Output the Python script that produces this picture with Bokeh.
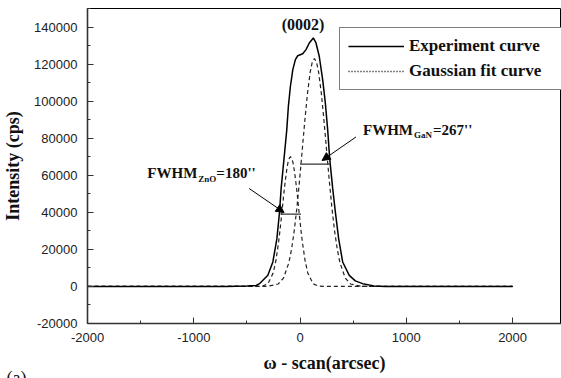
from bokeh.plotting import figure
from bokeh.models import (Range1d, SingleIntervalTicker, CustomJSTickFormatter, Legend, LegendItem,
                          Label, Arrow, NormalHead, Title)
from bokeh.embed import file_html
from bokeh.resources import INLINE

# ---- data ----
exp_x = [-2000, -700, -500, -413, -382, -303, -256, -218, -193, -178, -150, -125, -110, -91, -68, -44,
         -22, 25, 56, 87, 125, 150, 181, 213, 238, 260, 278, 307, 332, 363, 401, 463, 520, 589, 695, 800, 2000]
exp_y = [0, 0, 200, 500, 1500, 6000, 13200, 25800, 40200, 52900, 69500, 84500, 97100, 107900, 117000, 122400,
         124500, 125600, 127800, 131400, 134100, 131400, 124100, 111500, 98900, 84500, 69500, 52900, 40200,
         25800, 13200, 6000, 3000, 1500, 300, 0, 0]

gan_x = [-2000, -405, -305, -205, -155, -105, -80, -55, -30, -5, 20, 45, 70, 95, 115, 135, 155, 175, 200,
         225, 250, 275, 300, 325, 350, 375, 425, 475, 575, 675, 2000]
gan_y = [0, 0, 63, 1330, 4580, 12900, 20100, 29900, 42300, 57100, 73300, 89600, 104300, 115500, 121100,
         123000, 121100, 115500, 104300, 89600, 73300, 57100, 42300, 29900, 20100, 12900, 4580, 1330, 63, 0, 0]

zno_x = [-2000, -440, -402, -352, -302, -252, -227, -202, -190, -177, -165, -152, -140, -127, -115, -102,
         -90, -78, -65, -53, -40, -28, -15, -3, 10, 22, 47, 72, 122, 172, 222, 260, 2000]
zno_y = [0, 0, 17, 196, 1490, 7390, 14000, 23900, 29700, 36600, 43200, 50400, 56500, 62200, 66500, 69100,
         70000, 69100, 66500, 62200, 56500, 50400, 43200, 36600, 29700, 23900, 14000, 7390, 1490, 196, 17, 0, 0]

# FWHM marker segments (x0, x1, y)
gan_marker = (0, 280, 66000)
zno_marker = (-185, 9, 39000)

# annotation arrows (x_start, y_start, x_end, y_end)
gan_arrow = (526, 80650, 207, 67970)
zno_arrow = (-479, 52860, -150, 39900)

series_names = ["Experiment curve", "Gaussian fit curve"]
peak_label = "(0002)"
panel_label = "(a)"

FONT_SERIF = "Liberation Serif"
FONT_SANS = "Liberation Sans"

p = figure(width=561, height=378, output_backend="svg", toolbar_location=None,
           x_range=Range1d(-2000, 2460), y_range=Range1d(-20000, 150000),
           min_border_left=86, min_border_right=0, min_border_top=8, min_border_bottom=55)
p.background_fill_color = "white"
p.border_fill_color = "white"
p.outline_line_color = "black"
p.outline_line_width = 1
p.grid.visible = False

# axes
fmt = "return tick.toFixed(0);"
p.xaxis.ticker = SingleIntervalTicker(interval=1000, num_minor_ticks=2)
p.yaxis.ticker = SingleIntervalTicker(interval=20000, num_minor_ticks=2)
p.xaxis.formatter = CustomJSTickFormatter(code=fmt)
p.yaxis.formatter = CustomJSTickFormatter(code=fmt)
for ax in (p.xaxis, p.yaxis):
    ax.axis_line_color = "#333333"
    ax.axis_line_width = 1.6
    ax.major_tick_line_color = "#333333"
    ax.minor_tick_line_color = "#333333"
    ax.major_tick_in = 6
    ax.major_tick_out = 0
    ax.minor_tick_in = 3
    ax.minor_tick_out = 0
    ax.major_label_text_font = FONT_SANS
    ax.major_label_text_font_size = "13px"
    ax.major_label_text_color = "#222222"
    ax.axis_label_text_font = FONT_SERIF
    ax.axis_label_text_font_style = "bold"
    ax.axis_label_text_font_size = "18px"
    ax.axis_label_text_color = "#111111"
p.yaxis.major_label_standoff = 10
p.xaxis.major_label_standoff = 9
p.xaxis.axis_label = "ω - scan(arcsec)"
p.yaxis.axis_label = "Intensity (cps)"
p.xaxis.axis_label_standoff = 8
p.yaxis.axis_label_standoff = 8

# curves
r_gan = p.line(gan_x, gan_y, line_color="#222222", line_width=1.2, line_dash="4 3")
r_zno = p.line(zno_x, zno_y, line_color="#222222", line_width=1.2, line_dash="4 3")
r_exp = p.line(exp_x, exp_y, line_color="black", line_width=1.5)
r_dot = p.line(x=[float("nan")], y=[float("nan")], line_color="black", line_width=1.5, line_dash="1 2")

# FWHM markers
p.segment(x0=[gan_marker[0], zno_marker[0]], x1=[gan_marker[1], zno_marker[1]],
          y0=[gan_marker[2], zno_marker[2]], y1=[gan_marker[2], zno_marker[2]],
          line_color="#333333", line_width=1.3)

# arrows
for (xs, ys, xe, ye) in (gan_arrow, zno_arrow):
    p.add_layout(Arrow(end=NormalHead(size=8, fill_color="black", line_color="black"),
                       x_start=xs, y_start=ys, x_end=xe, y_end=ye,
                       line_color="black", line_width=1))

# legend
legend = Legend(items=[LegendItem(label=series_names[0], renderers=[r_exp]),
                       LegendItem(label=series_names[1], renderers=[r_dot])],
                location=(252, 233), label_text_font=FONT_SERIF, label_text_font_style="bold",
                label_text_font_size="17px", label_text_color="#111111",
                glyph_width=56, glyph_height=20, label_height=20, label_standoff=5,
                padding=8, spacing=5, margin=0, label_width=146,
                border_line_color="black", border_line_width=1, background_fill_alpha=1)
p.add_layout(legend, "center")

# text annotations
LIFT = 7
def txt(x, y, text, size, xo=0, yo=0, style="bold", align="left"):
    p.add_layout(Label(x=x, y=y, text=text, x_offset=xo, y_offset=yo + LIFT, text_font=FONT_SERIF,
                       text_font_style=style, text_font_size=size, text_color="#111111",
                       text_align=align, text_baseline="alphabetic"))

txt(28, 137600, peak_label, "16px", align="center")
# FWHM GaN
txt(592, 80650, "FWHM", "15px")
txt(592, 80650, "GaN", "9px", xo=51, yo=-5)
txt(592, 80650, "=267''", "15px", xo=70)
# FWHM ZnO
txt(-1437, 57700, "FWHM", "15px")
txt(-1437, 57700, "ZnO", "9px", xo=51, yo=-6)
txt(-1437, 57700, "=180''", "15px", xo=69)

# panel label: a zero-height title in the bottom panel, shifted left of the frame
p.add_layout(Title(text=panel_label, align="left", offset=-81, standoff=-24, vertical_align="bottom",
                   text_font=FONT_SERIF, text_font_style="normal", text_font_size="18px",
                   text_color="#111111"), "below")

open("out.html", "w").write(file_html(p, INLINE))
